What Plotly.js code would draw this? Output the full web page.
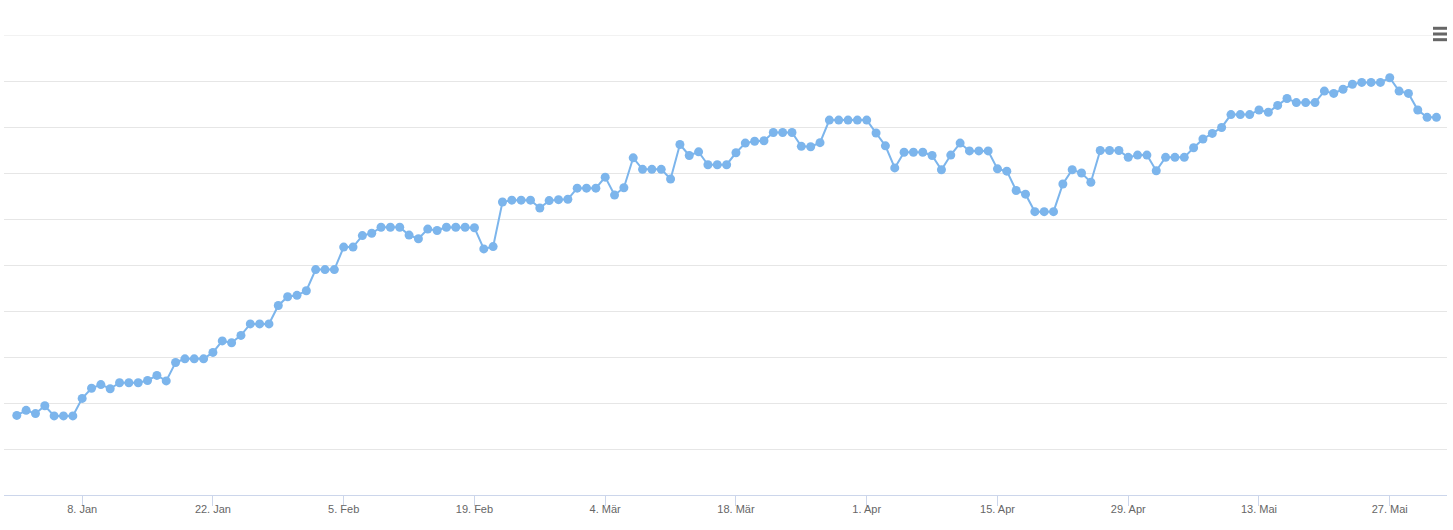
<!DOCTYPE html>
<html>
<head>
<meta charset="utf-8">
<script src="https://cdn.plot.ly/plotly-3.0.1.min.js"></script>
<style>
html,body{margin:0;padding:0;background:#fff;}
#chart{width:1453px;height:530px;}
</style>
</head>
<body>
<div id="chart"></div>
<script>
// Dates (daily, 1 Jan – 1 Jun 2024)
const dates = [
 '2024-01-01','2024-01-02','2024-01-03','2024-01-04','2024-01-05','2024-01-06','2024-01-07','2024-01-08','2024-01-09','2024-01-10',
 '2024-01-11','2024-01-12','2024-01-13','2024-01-14','2024-01-15','2024-01-16','2024-01-17','2024-01-18','2024-01-19','2024-01-20',
 '2024-01-21','2024-01-22','2024-01-23','2024-01-24','2024-01-25','2024-01-26','2024-01-27','2024-01-28','2024-01-29','2024-01-30',
 '2024-01-31','2024-02-01','2024-02-02','2024-02-03','2024-02-04','2024-02-05','2024-02-06','2024-02-07','2024-02-08','2024-02-09',
 '2024-02-10','2024-02-11','2024-02-12','2024-02-13','2024-02-14','2024-02-15','2024-02-16','2024-02-17','2024-02-18','2024-02-19',
 '2024-02-20','2024-02-21','2024-02-22','2024-02-23','2024-02-24','2024-02-25','2024-02-26','2024-02-27','2024-02-28','2024-02-29',
 '2024-03-01','2024-03-02','2024-03-03','2024-03-04','2024-03-05','2024-03-06','2024-03-07','2024-03-08','2024-03-09','2024-03-10',
 '2024-03-11','2024-03-12','2024-03-13','2024-03-14','2024-03-15','2024-03-16','2024-03-17','2024-03-18','2024-03-19','2024-03-20',
 '2024-03-21','2024-03-22','2024-03-23','2024-03-24','2024-03-25','2024-03-26','2024-03-27','2024-03-28','2024-03-29','2024-03-30',
 '2024-03-31','2024-04-01','2024-04-02','2024-04-03','2024-04-04','2024-04-05','2024-04-06','2024-04-07','2024-04-08','2024-04-09',
 '2024-04-10','2024-04-11','2024-04-12','2024-04-13','2024-04-14','2024-04-15','2024-04-16','2024-04-17','2024-04-18','2024-04-19',
 '2024-04-20','2024-04-21','2024-04-22','2024-04-23','2024-04-24','2024-04-25','2024-04-26','2024-04-27','2024-04-28','2024-04-29',
 '2024-04-30','2024-05-01','2024-05-02','2024-05-03','2024-05-04','2024-05-05','2024-05-06','2024-05-07','2024-05-08','2024-05-09',
 '2024-05-10','2024-05-11','2024-05-12','2024-05-13','2024-05-14','2024-05-15','2024-05-16','2024-05-17','2024-05-18','2024-05-19',
 '2024-05-20','2024-05-21','2024-05-22','2024-05-23','2024-05-24','2024-05-25','2024-05-26','2024-05-27','2024-05-28','2024-05-29',
 '2024-05-30','2024-05-31','2024-06-01'
];

// Series values (arbitrary units; gridlines every 10)
const values = [
 17.3,18.4,17.7,19.4,17.2,17.2,17.2,21.0,23.2,24.0,
 23.1,24.4,24.4,24.4,24.9,26.0,24.8,28.8,29.6,29.6,
 29.6,31.0,33.5,33.1,34.7,37.2,37.2,37.2,41.2,43.1,
 43.4,44.4,49.0,49.0,49.0,53.9,53.9,56.4,56.9,58.2,
 58.2,58.2,56.5,55.7,57.8,57.5,58.2,58.2,58.2,58.1,
 53.5,54.0,63.7,64.1,64.1,64.1,62.4,64.0,64.2,64.3,
 66.7,66.7,66.7,69.1,65.2,66.8,73.3,70.8,70.8,70.8,
 68.7,76.2,73.8,74.6,71.8,71.8,71.8,74.4,76.5,76.9,
 77.0,78.8,78.8,78.8,75.8,75.7,76.6,81.5,81.5,81.5,
 81.5,81.5,78.7,75.9,71.1,74.5,74.5,74.5,73.8,70.7,
 73.9,76.5,74.8,74.8,74.8,70.9,70.4,66.2,65.4,61.6,
 61.6,61.6,67.6,70.7,70.0,68.0,74.9,74.9,74.9,73.4,
 73.9,73.9,70.5,73.4,73.4,73.4,75.5,77.4,78.6,79.9,
 82.7,82.7,82.7,83.7,83.2,84.7,86.2,85.3,85.3,85.3,
 87.8,87.3,88.2,89.3,89.7,89.7,89.7,90.7,87.8,87.3,
 83.7,82.1,82.1
];

// X-axis tick labels
const tickDates = ['2024-01-08','2024-01-22','2024-02-05','2024-02-19','2024-03-04','2024-03-18','2024-04-01','2024-04-15','2024-04-29','2024-05-13','2024-05-27'];
const tickLabels = ['8. Jan','22. Jan','5. Feb','19. Feb','4. Mär','18. Mär','1. Apr','15. Apr','29. Apr','13. Mai','27. Mai'];

const yMax = 100;

const trace = {
  x: dates,
  y: values,
  type: 'scatter',
  mode: 'lines+markers',
  line: {color: '#7cb5ec', width: 2},
  marker: {color: '#7cb5ec', size: 9},
  hoverinfo: 'x+y',
  showlegend: false
};

const menuColor = '#666666';
const layout = {
  width: 1453,
  height: 530,
  margin: {l: 4, r: 6, t: 35, b: 35, pad: 0},
  paper_bgcolor: '#ffffff',
  plot_bgcolor: '#ffffff',
  font: {family: '"Liberation Sans", Arial, sans-serif', size: 11, color: '#666666'},
  xaxis: {
    type: 'date',
    range: ['2023-12-30 15:07', '2024-06-02 03:07'],
    tickmode: 'array',
    tickvals: tickDates,
    ticktext: tickLabels,
    showgrid: false,
    zeroline: false,
    showline: true,
    linecolor: '#ccd6eb',
    linewidth: 1,
    ticks: 'outside',
    ticklen: 10,
    tickwidth: 1,
    tickcolor: '#ccd6eb',
    ticklabelstandoff: -6,
    tickfont: {size: 11, color: '#666666'},
    fixedrange: true
  },
  yaxis: {
    range: [0, yMax],
    dtick: 10,
    tick0: 0,
    showticklabels: false,
    showgrid: true,
    gridcolor: '#e6e6e6',
    gridwidth: 1,
    zeroline: false,
    showline: false,
    ticks: '',
    fixedrange: true
  },
  shapes: [
    // top gridline (Plotly omits the grid line on the plot edge)
    {type:'line', xref:'paper', yref:'y', x0:0, x1:1, y0:yMax, y1:yMax, layer:'below', line:{color:'#e6e6e6', width:1}},
    // export-menu icon
    {type:'line', xref:'paper', yref:'paper', x0:0.9903, x1:1.0, y0:1.0146, y1:1.0146, line:{color:menuColor, width:3}},
    {type:'line', xref:'paper', yref:'paper', x0:0.9903, x1:1.0, y0:1.0022, y1:1.0022, line:{color:menuColor, width:3}},
    {type:'line', xref:'paper', yref:'paper', x0:0.9903, x1:1.0, y0:0.9898, y1:0.9898, line:{color:menuColor, width:3}}
  ]
};

Plotly.newPlot('chart', [trace], layout, {displayModeBar: false, staticPlot: false});
</script>
</body>
</html>
